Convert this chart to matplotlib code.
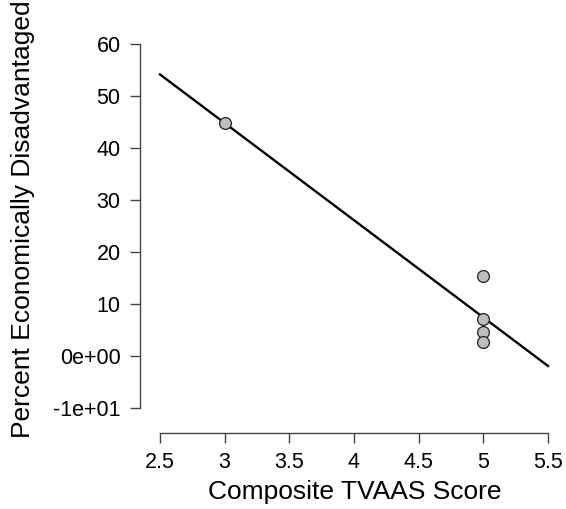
import numpy as np
import matplotlib
matplotlib.use("Agg")
import matplotlib.pyplot as plt

plt.rcParams['font.family'] = ['Liberation Sans', 'DejaVu Sans']

# data
tvaas_score = [3, 5, 5, 5, 5]
pct_econ_dis = [44.8, 15.3, 7.1, 4.6, 2.7]

x_ticks = [2.5, 3, 3.5, 4, 4.5, 5, 5.5]
x_tick_labels = ["2.5", "3", "3.5", "4", "4.5", "5", "5.5"]
y_ticks = [-10, 0, 10, 20, 30, 40, 50, 60]
y_tick_labels = ["-1e+01", "0e+00", "10", "20", "30", "40", "50", "60"]

W, H = 566, 509
fig = plt.figure(figsize=(W / 100, H / 100), dpi=100)

# axes box in pixels (from top-left)
left_px, right_px, top_px, bottom_px = 140, 566, 30, 433
ax = fig.add_axes([left_px / W, (H - bottom_px) / H,
                   (right_px - left_px) / W, (bottom_px - top_px) / H])

# fitted regression line over the x axis range
slope, intercept = np.polyfit(tvaas_score, pct_econ_dis, 1)
xs = np.array([x_ticks[0], x_ticks[-1]])
ax.plot(xs, intercept + slope * xs, color='black', lw=1.7, zorder=2)

ax.plot(tvaas_score, pct_econ_dis, 'o', ms=8.5, mfc='#bebebe', mec='#222222',
        mew=0.9, zorder=3)

# scales: 2.5 -> x=160px, 5.5 -> 548px ; 60 -> y=44px, -10 -> 408px
xpx = (548 - 160) / 3.0
ax.set_xlim(2.5 - (160 - left_px) / xpx, 5.5 + (right_px - 548) / xpx)
ypx = (408 - 44) / 70.0
ax.set_ylim(-10 - (bottom_px - 408) / ypx, 60 + (44 - top_px) / ypx)

for s in ['top', 'right']:
    ax.spines[s].set_visible(False)
ax.spines['bottom'].set_bounds(2.5, 5.5)
ax.spines['left'].set_bounds(-10, 60)
for s in ['bottom', 'left']:
    ax.spines[s].set_color('#444444')
    ax.spines[s].set_linewidth(1.0)

ax.set_xticks(x_ticks)
ax.set_xticklabels(x_tick_labels)
ax.set_yticks(y_ticks)
ax.set_yticklabels(y_tick_labels)
ax.tick_params(length=7, width=1.0, color='#444444', labelsize=15.5, pad=7)

ax.set_xlabel("Composite TVAAS Score", fontsize=19, va='center')
ax.xaxis.set_label_coords((355 - left_px) / (right_px - left_px),
                          -(492 - bottom_px) / (bottom_px - top_px))
ax.set_ylabel("Percent Economically Disadvantaged", fontsize=19, va='center')
ax.yaxis.set_label_coords(-(left_px - 23) / (right_px - left_px),
                          (bottom_px - 219) / (bottom_px - top_px))

fig.savefig("out.png", dpi=100)
